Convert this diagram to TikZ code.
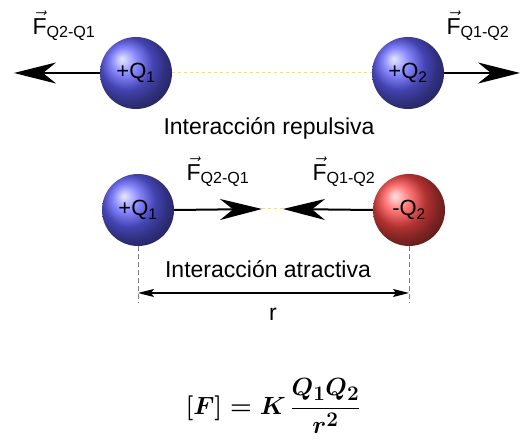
\documentclass[tikz,border=0pt]{standalone}
\usepackage{amsmath}
\usepackage{fontspec}
\setmainfont{Liberation Sans}
\usetikzlibrary{arrows.meta}

\definecolor{dashyellow}{RGB}{240,232,70}
\newcommand{\forcevec}[1]{$\vec{\mbox{F}}$\textsubscript{#1}}
\newcommand{\coulomb}{\begingroup\boldmath$\displaystyle\left[F\right] = K\,\frac{Q_1Q_2}{r^2}$\endgroup}

\tikzset{
	charge/.style={circle, minimum size=72pt, inner sep=0pt, shading=ball, font=\fontsize{22}{22}\selectfont},
	poscharge/.style={charge, ball color=blue!62!white},
	negcharge/.style={charge, ball color=red!72!white},
	force/.style={line width=2pt, -{Stealth[length=42pt, width=21pt, inset=13pt]}},
	link/.style={dashyellow, dashed, line width=1pt},
	guide/.style={gray, dash pattern=on 5pt off 3pt, line width=1pt},
	dim/.style={line width=1.2pt, {Stealth[length=16pt, width=8pt, inset=3pt]}-{Stealth[length=16pt, width=8pt, inset=3pt]}},
	lbl/.style={font=\fontsize{23}{23}\selectfont},
	formula/.style={font=\fontsize{32}{36}\selectfont}
}

\begin{document}
\begin{tikzpicture}[x=1pt, y=-1pt]
	\useasboundingbox (0,0) rectangle (523,443);
	\node [poscharge] (Q1a) at (136,73) {+Q\textsubscript{1}};
	\node [poscharge] (Q2a) at (408,73) {+Q\textsubscript{2}};
	\draw [link] (Q1a.east) -- (Q2a.west);
	\coordinate (La) at (14,73);
	\coordinate (Ra) at (520,73);
	\draw [force] (Q1a.west) -- (La);
	\draw [force] (Q2a.east) -- (Ra);
	\node [lbl] (F21a) at (64,26) {\forcevec{Q2-Q1}};
	\node [lbl] (F12a) at (478,26) {\forcevec{Q1-Q2}};
	\node [lbl] (rep) at (269,128) {Interacción repulsiva};

	\node [poscharge] (Q1b) at (138,210) {+Q\textsubscript{1}};
	\node [negcharge] (Q2b) at (409,210) {-Q\textsubscript{2}};
	\coordinate (T1) at (262,209);
	\coordinate (T2) at (283,209);
	\draw [link] (T1) -- (T2);
	\draw [force] (Q1b.east) -- (T1);
	\draw [force] (Q2b.west) -- (T2);
	\node [lbl] (F21b) at (218,172) {\forcevec{Q2-Q1}};
	\node [lbl] (F12b) at (344,172) {\forcevec{Q1-Q2}};
	\node [lbl] (atr) at (268,269) {Interacción atractiva};

	\coordinate (Da) at (138,303);
	\coordinate (Db) at (409,303);
	\draw [guide] (Q1b.south) -- (Da);
	\draw [guide] (Q2b.south) -- (Db);
	\coordinate (A1) at (138,293);
	\coordinate (A2) at (409,293);
	\draw [dim] (A1) -- (A2);
	\node [lbl] (dist) at (273,314) {r};

	\node [formula] (law) at (273,406) {\coulomb};
\end{tikzpicture}
\end{document}
